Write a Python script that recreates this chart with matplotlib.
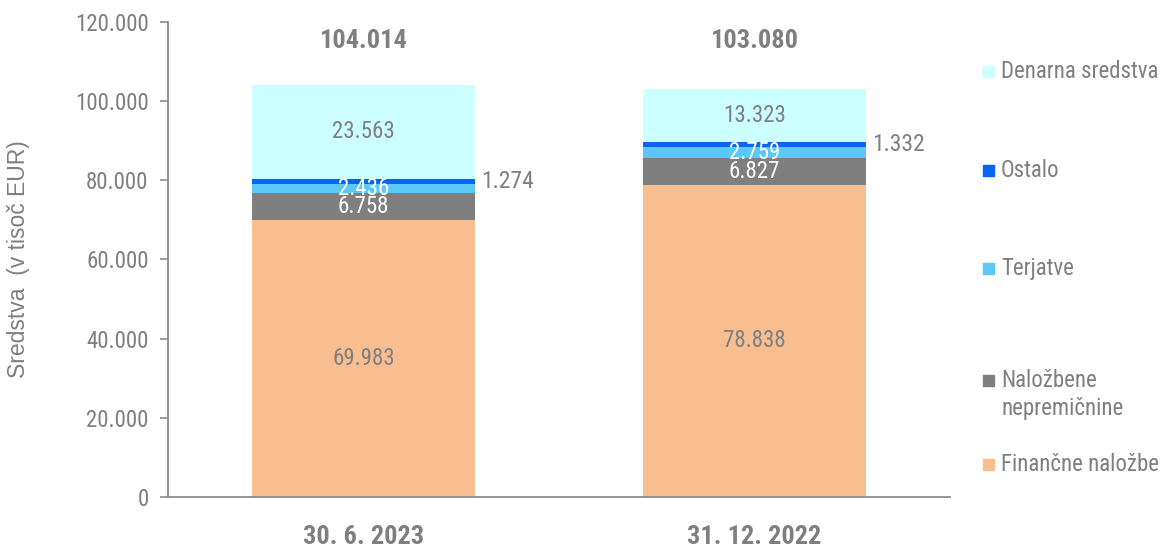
import matplotlib
matplotlib.use("Agg")
import matplotlib.pyplot as plt
from matplotlib import font_manager
from matplotlib.patches import Rectangle

categories = ["30. 6. 2023", "31. 12. 2022"]
financne_nalozbe = [69983, 78838]
nalozbene_nepremicnine = [6758, 6827]
terjatve = [2436, 2759]
ostalo = [1274, 1332]
denarna_sredstva = [23563, 13323]
totals = [104014, 103080]

series_names = ["Finančne naložbe", "Naložbene\nnepremičnine", "Terjatve",
                "Ostalo", "Denarna sredstva"]
series_colors = ["#F8BE90", "#7F7F7F", "#5CC8F6", "#0A64F0", "#CCFFFF"]
label_colors = ["#7F7F7F", "white", "white", "#7F7F7F", "#7F7F7F"]

GREY = "#7F7F7F"


def pick_font(names):
    for name in names:
        try:
            font_manager.findfont(font_manager.FontProperties(family=name),
                                  fallback_to_default=False)
            return name
        except ValueError:
            continue
    return "DejaVu Sans"


narrow = pick_font(["Liberation Sans Narrow", "Arial Narrow", "Roboto Condensed",
                    "Liberation Sans"])
regular = pick_font(["Liberation Sans", "Arial"])


def fmt(v):
    return f"{v:,}".replace(",", ".")


def main():
    fig = plt.figure(figsize=(11.64, 5.47), dpi=100)
    ax = fig.add_axes([0.1443, 0.0914, 0.6718, 0.8684])

    x = list(range(len(categories)))
    width = 0.57
    series = [financne_nalozbe, nalozbene_nepremicnine, terjatve, ostalo, denarna_sredstva]

    bottoms = [0] * len(categories)
    for i, values in enumerate(series):
        bars = ax.bar(x, values, width, bottom=bottoms, color=series_colors[i],
                      linewidth=0, zorder=2)
        for j, bar in enumerate(bars):
            mid = bottoms[j] + values[j] / 2
            if i == 3:
                # thin segment: value written beside the bar
                ax.text(bar.get_x() + bar.get_width() + 0.015, mid, fmt(values[j]),
                        ha="left", va="center", fontsize=17, color=GREY,
                        family=narrow)
            else:
                ax.text(x[j], mid, fmt(values[j]), ha="center", va="center",
                        fontsize=16.5, color=label_colors[i], family=narrow, zorder=3)
        bottoms = [b + v for b, v in zip(bottoms, values)]

    for j, t in enumerate(totals):
        ax.text(x[j], 115300, fmt(t), ha="center", va="center", fontsize=19,
                fontweight="bold", color=GREY, family=narrow)

    ax.set_xlim(-0.5, 1.5)
    ax.set_ylim(0, 120000)
    ax.set_yticks(range(0, 120001, 20000))
    ax.set_yticklabels([fmt(v) for v in range(0, 120001, 20000)])
    ax.set_xticks(x)
    ax.set_xticklabels(categories, fontweight="bold")

    for lab in ax.get_yticklabels():
        lab.set_family(narrow)
        lab.set_fontsize(16.5)
        lab.set_color(GREY)
    for lab in ax.get_xticklabels():
        lab.set_family(narrow)
        lab.set_fontsize(19)
        lab.set_color(GREY)

    ax.tick_params(axis="y", length=6, width=1.2, color="#8C8C8C", pad=8,
                   direction="out")
    ax.tick_params(axis="x", length=0, pad=20)
    for side in ["top", "right"]:
        ax.spines[side].set_visible(False)
    for side in ["left", "bottom"]:
        ax.spines[side].set_color("#8C8C8C")
        ax.spines[side].set_linewidth(1.3)

    ax.set_ylabel("Sredstva  (v tisoč EUR)", fontsize=16.5, color=GREY,
                  family=regular, labelpad=32)

    # legend, top to bottom
    legend_y = [0.869, 0.689, 0.510, 0.305, 0.150]
    for k, yy in enumerate(legend_y):
        idx = len(series_names) - 1 - k
        sq = 11 / 547
        fig.patches.append(Rectangle((983 / 1164, yy - sq / 2), 11 / 1164, sq,
                                     transform=fig.transFigure,
                                     color=series_colors[idx]))
        name = series_names[idx]
        if "\n" in name:
            first, second = name.split("\n")
            fig.text(1001 / 1164, yy, first, ha="left", va="center", fontsize=16.5,
                     color=GREY, family=narrow)
            fig.text(1001 / 1164, yy - 28 / 547, second, ha="left", va="center",
                     fontsize=16.5, color=GREY, family=narrow)
        else:
            fig.text(1001 / 1164, yy, name, ha="left", va="center", fontsize=16.5,
                     color=GREY, family=narrow)

    fig.savefig("out.png", dpi=100)


if __name__ == "__main__":
    main()
